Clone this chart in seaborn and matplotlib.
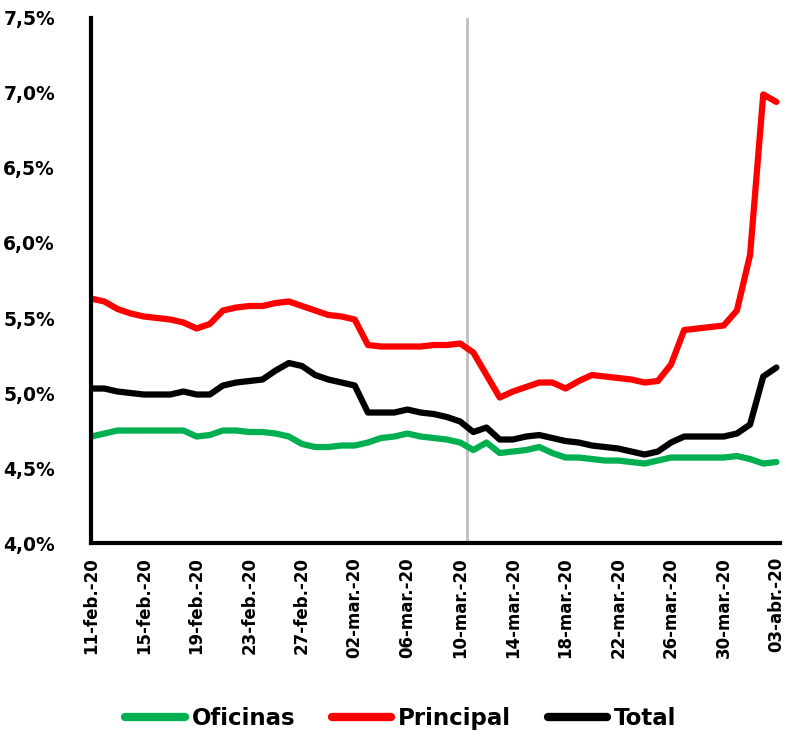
import pandas as pd
import matplotlib
matplotlib.use("Agg")
import matplotlib.pyplot as plt
import seaborn as sns

# daily data, 11-feb-20 .. 03-abr-20
dates = pd.date_range("2020-02-11", "2020-04-03", freq="D")

oficinas = [4.71, 4.73, 4.75, 4.75, 4.75, 4.75, 4.75, 4.75, 4.71, 4.72,
            4.75, 4.75, 4.74, 4.74, 4.73, 4.71, 4.66, 4.64, 4.64, 4.65,
            4.65, 4.67, 4.70, 4.71, 4.73, 4.71, 4.70, 4.69, 4.67, 4.62,
            4.67, 4.60, 4.61, 4.62, 4.64, 4.60, 4.57, 4.57, 4.56, 4.55,
            4.55, 4.54, 4.53, 4.55, 4.57, 4.57, 4.57, 4.57, 4.57, 4.58,
            4.56, 4.53, 4.54]

principal = [5.63, 5.61, 5.56, 5.53, 5.51, 5.50, 5.49, 5.47, 5.43, 5.46,
             5.55, 5.57, 5.58, 5.58, 5.60, 5.61, 5.58, 5.55, 5.52, 5.51,
             5.49, 5.32, 5.31, 5.31, 5.31, 5.31, 5.32, 5.32, 5.33, 5.27,
             5.12, 4.97, 5.01, 5.04, 5.07, 5.07, 5.03, 5.08, 5.12, 5.11,
             5.10, 5.09, 5.07, 5.08, 5.19, 5.42, 5.43, 5.44, 5.45, 5.55,
             5.92, 6.99, 6.94]

total = [5.03, 5.03, 5.01, 5.00, 4.99, 4.99, 4.99, 5.01, 4.99, 4.99,
         5.05, 5.07, 5.08, 5.09, 5.15, 5.20, 5.18, 5.12, 5.09, 5.07,
         5.05, 4.87, 4.87, 4.87, 4.89, 4.87, 4.86, 4.84, 4.81, 4.74,
         4.77, 4.69, 4.69, 4.71, 4.72, 4.70, 4.68, 4.67, 4.65, 4.64,
         4.63, 4.61, 4.59, 4.61, 4.67, 4.71, 4.71, 4.71, 4.71, 4.73,
         4.79, 5.11, 5.17]

tick_labels = ["11-feb.-20", "15-feb.-20", "19-feb.-20", "23-feb.-20",
               "27-feb.-20", "02-mar.-20", "06-mar.-20", "10-mar.-20",
               "14-mar.-20", "18-mar.-20", "22-mar.-20", "26-mar.-20",
               "30-mar.-20", "03-abr.-20"]
y_labels = ["4,0%", "4,5%", "5,0%", "5,5%", "6,0%", "6,5%", "7,0%", "7,5%"]

df = pd.DataFrame({"fecha": dates, "Oficinas": oficinas,
                   "Principal": principal, "Total": total})
long_df = df.melt(id_vars="fecha", var_name="serie", value_name="tasa")

sns.set_style("white")
plt.rcParams["text.color"] = "black"
plt.rcParams["xtick.color"] = "black"
plt.rcParams["ytick.color"] = "black"

fig = plt.figure(figsize=(7.86, 7.48), dpi=100)
ax = fig.add_axes([0.116, 0.274, 0.876, 0.702])

ax.axvline(dates[28] + pd.Timedelta(hours=12), color="#BFBFBF", lw=2, zorder=1)

sns.lineplot(data=long_df, x="fecha", y="tasa", hue="serie",
             palette={"Oficinas": "#00B050", "Principal": "#FF0000", "Total": "#000000"},
             linewidth=4.5, ax=ax, legend=True)

ax.set_xlim(dates[0], dates[-1] + pd.Timedelta(hours=6))
ax.set_ylim(4.0, 7.5)
ax.set_xticks(dates[::4])
ax.set_xticklabels(tick_labels, rotation=90, fontsize=12, fontweight="bold")
ax.set_yticks([4.0, 4.5, 5.0, 5.5, 6.0, 6.5, 7.0, 7.5])
ax.set_yticklabels(y_labels, fontsize=13.5, fontweight="bold")
ax.tick_params(axis="both", direction="in", length=6, width=2.5, color="black")
ax.tick_params(axis="y", pad=26)
ax.tick_params(axis="x", pad=10)
ax.set_xlabel("")
ax.set_ylabel("")

for side in ["top", "right"]:
    ax.spines[side].set_visible(False)
for side in ["left", "bottom"]:
    ax.spines[side].set_color("black")
    ax.spines[side].set_linewidth(3)

handles, labels = ax.get_legend_handles_labels()
for h in handles:
    h.set_linewidth(6)
ax.legend_.remove()
fig.legend(handles, labels, loc="center", bbox_to_anchor=(0.51, 0.04), ncol=3,
           frameon=False, prop={"size": 16.5, "weight": "bold"}, handlelength=2.6,
           columnspacing=1.6, handletextpad=0.3)

fig.savefig("out.png", dpi=100)
